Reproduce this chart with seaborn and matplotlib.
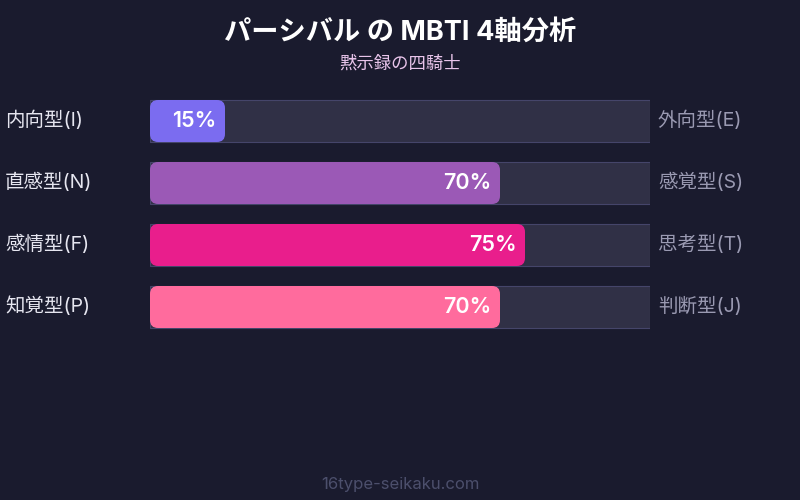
import matplotlib
matplotlib.use("Agg")
import matplotlib.pyplot as plt
import seaborn as sns
import pandas as pd
from matplotlib.patches import FancyBboxPatch

left_labels = ["内向型(I)", "直感型(N)", "感情型(F)", "知覚型(P)"]
right_labels = ["外向型(E)", "感覚型(S)", "思考型(T)", "判断型(J)"]
values = [15, 70, 75, 70]
colors = ["#7b6cf0", "#9b59b6", "#e91e8c", "#ff6b9d"]
title = "パーシバル の MBTI 4軸分析"
subtitle = "黙示録の四騎士"
footer = "16type-seikaku.com"

BG = "#1a1b2e"
sns.set_theme(style="white")
plt.rcParams["font.family"] = ["Inter", "Noto Sans CJK JP", "DejaVu Sans"]

fig = plt.figure(figsize=(8, 5), dpi=100, facecolor=BG)
ax = fig.add_axes([150/800, 1-338/500, 500/800, 248/500])
ax.set_facecolor(BG)

df = pd.DataFrame({"axis": left_labels, "value": values, "full": [100]*len(values)})
bh = 42/62

sns.barplot(data=df, y="axis", x="full", orient="h", color="#2d2c4a",
            width=bh, edgecolor="#45456a", linewidth=0.8, ax=ax)
n_track = len(ax.patches)
sns.barplot(data=df, y="axis", x="value", orient="h", hue="axis", palette=colors,
            width=bh, legend=False, ax=ax)

fill_patches = ax.patches[n_track:]
aspect = (1/62) / (100/500)
for p, c in zip(list(fill_patches), colors):
    x0, y0 = p.get_x(), p.get_y()
    w, h = p.get_width(), p.get_height()
    p.remove()
    fb = FancyBboxPatch((x0, y0), w, h,
                        boxstyle="round,pad=0,rounding_size=1.6",
                        mutation_aspect=aspect, facecolor=c, edgecolor="none", zorder=3)
    ax.add_patch(fb)
    ax.text(x0 + w - 1.7, y0 + h/2, f"{int(w)}%", ha="right", va="center",
            color="white", fontsize=15.5, fontweight="semibold", zorder=4)

ax.set_xlim(0, 100)
ax.set_ylim(3.5, -0.5)
ax.set_xlabel("")
ax.set_ylabel("")
ax.set_xticks([])
ax.set_yticks([])
for s in ax.spines.values():
    s.set_visible(False)

for i, (l, r) in enumerate(zip(left_labels, right_labels)):
    yfig = 1 - (120 + 62*i) / 500
    fig.text(5/800, yfig, l, ha="left", va="center", color="#e6e6f0", fontsize=14)
    fig.text(658/800, yfig, r, ha="left", va="center", color="#9a9ab2", fontsize=14)

fig.text(0.5, 1-33/500, title, ha="center", va="center", color="white",
         fontsize=19.6, fontweight="bold")
fig.text(0.5, 1-64/500, subtitle, ha="center", va="center", color="#e8c4ea", fontsize=12.5)
fig.text(0.5, 1-484/500, footer, ha="center", va="center", color="#4c4f6c", fontsize=12)

fig.savefig("out.png", dpi=100, facecolor=BG)
